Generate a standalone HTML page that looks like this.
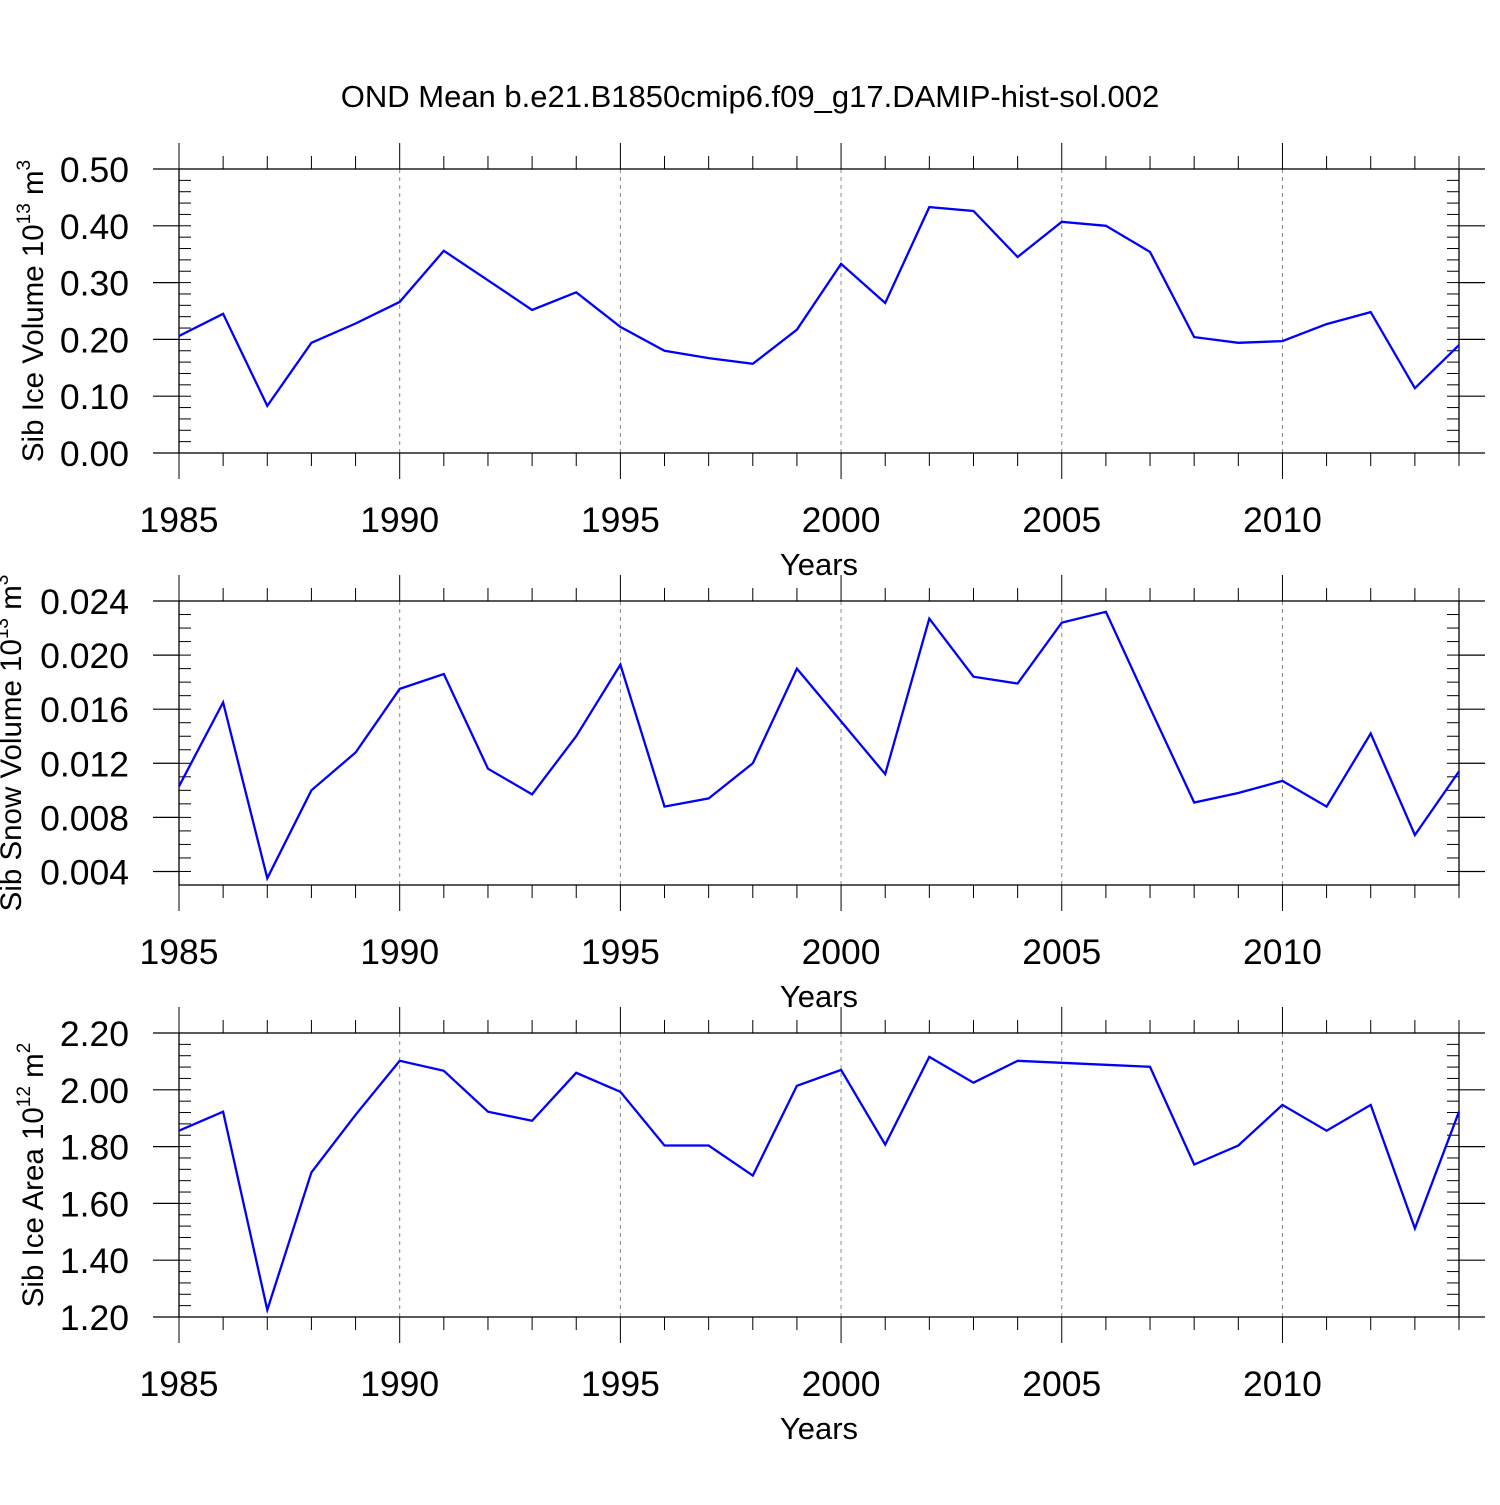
<!DOCTYPE html>
<html><head><meta charset="utf-8"><style>
body{margin:0;background:#fff}
svg text{font-family:"Liberation Sans",Arial,sans-serif;fill:#000}
</style></head><body>
<svg id="c" width="1500" height="1500" xmlns="http://www.w3.org/2000/svg">
<text x="750" y="107" font-size="31" text-anchor="middle">OND Mean b.e21.B1850cmip6.f09_g17.DAMIP-hist-sol.002</text>
</svg>
<script>
const years=[1985,1986,1987,1988,1989,1990,1991,1992,1993,1994,1995,1996,1997,1998,1999,2000,2001,2002,2003,2004,2005,2006,2007,2008,2009,2010,2011,2012,2013,2014];
const iceVolume=[0.206,0.245,0.083,0.194,0.228,0.266,0.356,0.304,0.252,0.283,0.222,0.18,0.167,0.157,0.217,0.333,0.264,0.433,0.426,0.345,0.407,0.4,0.354,0.204,0.194,0.197,0.227,0.248,0.114,0.19];
const snowVolume=[0.0103,0.0165,0.0035,0.0100,0.0128,0.0175,0.0186,0.0116,0.0097,0.0140,0.0193,0.0088,0.0094,0.0120,0.0190,0.0151,0.0112,0.0227,0.0184,0.0179,0.0224,0.0232,0.0161,0.0091,0.0098,0.0107,0.0088,0.0142,0.0067,0.0114];
const iceArea=[1.856,1.923,1.225,1.709,1.912,2.102,2.067,1.923,1.891,2.060,1.993,1.804,1.804,1.698,2.014,2.07,1.807,2.116,2.025,2.102,2.095,2.088,2.081,1.737,1.804,1.947,1.856,1.947,1.512,1.923];
const xTicks=[1985,1990,1995,2000,2005,2010];
const iceVolTicks=["0.00","0.10","0.20","0.30","0.40","0.50"];
const snowTicks=["0.004","0.008","0.012","0.016","0.020","0.024"];
const areaTicks=["1.20","1.40","1.60","1.80","2.00","2.20"];

const svg=document.getElementById('c');
const NS='http://www.w3.org/2000/svg';
function mk(t,a,p){const e=document.createElementNS(NS,t);for(const k in a)e.setAttribute(k,a[k]);(p||svg).appendChild(e);return e;}
const X0=179,X1=1459;
function xs(y){return X0+(y-1985)/(2014-1985)*(X1-X0);}
function panel(o){
  const g=mk('g',{});
  
  
  const ys=v=>o.bot-(v-o.min)/(o.max-o.min)*(o.bot-o.top);
  xTicks.forEach(t=>{if(t>1985){const l=mk('line',{x1:xs(t),x2:xs(t),y1:o.top,y2:o.bot,stroke:'#888','stroke-width':1,'stroke-dasharray':'4,4'},g);
    }});
  const r=mk('rect',{x:X0,y:o.top,width:X1-X0,height:o.bot-o.top,fill:'none',stroke:'#000','stroke-width':1.3},g);
  
  for(let y=1985;y<=2014;y++){const maj=(y%5===0);const L=maj?26:13;
    mk('line',{x1:xs(y),x2:xs(y),y1:o.top-L,y2:o.top,stroke:'#000','stroke-width':1},g);
    mk('line',{x1:xs(y),x2:xs(y),y1:o.bot,y2:o.bot+L,stroke:'#000','stroke-width':1},g);}
  xTicks.forEach(t=>{const tx=mk('text',{x:xs(t),y:o.bot+79,'font-size':35.5,'text-anchor':'middle'},g);tx.textContent=t;
    });
  const xt=mk('text',{x:819,y:o.bot+122,'font-size':31,'text-anchor':'middle'},g);xt.textContent='Years';
  
  for(let v=o.min;v<=o.max+1e-9;v+=o.minor){const y=ys(v);
    mk('line',{x1:X0,x2:X0+12,y1:y,y2:y,stroke:'#000','stroke-width':1},g);
    mk('line',{x1:X1-12,x2:X1,y1:y,y2:y,stroke:'#000','stroke-width':1},g);}
  o.ticks.forEach(s=>{const v=parseFloat(s);const y=ys(v);
    mk('line',{x1:X0-26,x2:X0,y1:y,y2:y,stroke:'#000','stroke-width':1.2},g);
    mk('line',{x1:X1,x2:X1+26,y1:y,y2:y,stroke:'#000','stroke-width':1.2},g);
    const tx=mk('text',{x:129,y:y+13,'font-size':35.5,'text-anchor':'end'},g);tx.textContent=s;
    });
  const cy=(o.top+o.bot)/2;
  const yt=mk('text',{x:0,y:0,'font-size':29.5,'text-anchor':'middle',transform:`translate(${o.tx},${cy}) rotate(-90)`},g);
  yt.innerHTML=o.label+' 10<tspan dy="-13" font-size="19">'+o.exp+'</tspan><tspan dy="13"> m</tspan><tspan dy="-13" font-size="19">'+o.unitExp+'</tspan>';
  
  const pts=o.data.map((v,i)=>xs(years[i]).toFixed(1)+','+ys(v).toFixed(1)).join(' ');
  const pl=mk('polyline',{points:pts,fill:'none',stroke:'#0000ff','stroke-width':2.3,'stroke-linejoin':'miter'},g);
  
}
panel({name:'ice-volume',top:169,bot:453,min:0,max:0.5,minor:0.02,ticks:iceVolTicks,data:iceVolume,label:'Sib Ice Volume',exp:'13',unitExp:'3',tx:43});
panel({name:'snow-volume',top:601,bot:885,min:0.003,max:0.024,minor:0.001,ticks:snowTicks,data:snowVolume,label:'Sib Snow Volume',exp:'13',unitExp:'3',tx:21});
panel({name:'ice-area',top:1033,bot:1317,min:1.2,max:2.2,minor:0.04,ticks:areaTicks,data:iceArea,label:'Sib Ice Area',exp:'12',unitExp:'2',tx:43});
</script>
</body></html>
